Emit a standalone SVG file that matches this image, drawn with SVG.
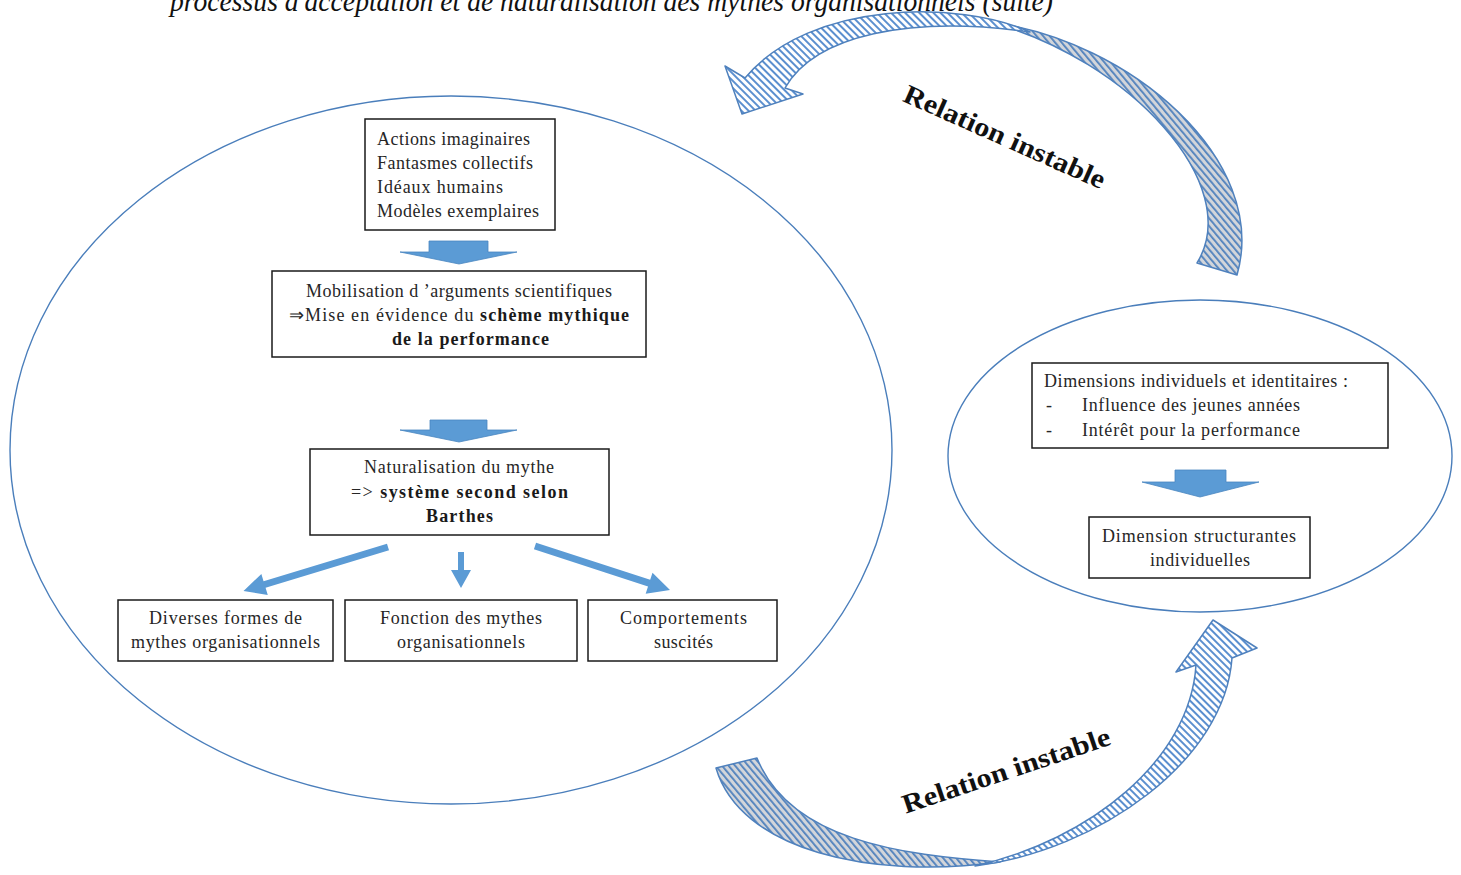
<svg xmlns="http://www.w3.org/2000/svg" width="1461" height="875" viewBox="0 0 1461 875">
<defs>
<pattern id="hatchW" patternUnits="userSpaceOnUse" width="5" height="5" patternTransform="rotate(-45)">
<rect width="5" height="5" fill="#ffffff"/>
<rect width="2" height="5" fill="#5b8fcf"/>
</pattern>
<pattern id="hatchG" patternUnits="userSpaceOnUse" width="5" height="5" patternTransform="rotate(-40)">
<rect width="5" height="5" fill="#d2d5da"/>
<rect width="1.8" height="5" fill="#4f81bd"/>
</pattern>
</defs>
<style>
.ell{fill:none;stroke:#4a7ebb;stroke-width:1.4}
.box{fill:#ffffff;stroke:#1a1a1a;stroke-width:1.5}
.t{font-family:"Liberation Serif",serif;font-size:18px;fill:#262626}
.b{font-weight:bold;fill:#1a1a1a}
.blk{fill:#5b9bd5;stroke:#4a86c0;stroke-width:0.8}
.thin{fill:#5b9bd5}
.front{fill:url(#hatchW);stroke:#4f81bd;stroke-width:1.5;stroke-linejoin:round}
.back{fill:url(#hatchG);stroke:#4f81bd;stroke-width:1.5;stroke-linejoin:round}
.rel{font-family:"Liberation Serif",serif;font-weight:bold;font-size:27px;fill:#111111}
.title{font-family:"Liberation Serif",serif;font-style:italic;font-size:29px;fill:#111111}
</style>

<text class="title" x="170" y="11" textLength="883" lengthAdjust="spacingAndGlyphs">processus d'acceptation et de naturalisation des mythes organisationnels (suite)</text>

<g id="ellipse-left"><ellipse class="ell" cx="451" cy="450" rx="441" ry="354"/></g>
<g id="ellipse-right"><ellipse class="ell" cx="1200" cy="456" rx="252" ry="156"/></g>

<g id="curved-arrow-top">
<path class="back" d="M 990,22 C 1130,40 1270,160 1237,275 L 1197,263 C 1245,185 1130,60 990,22 Z"/>
<path class="front" d="M 745,78 L 725,66 L 742,114 L 803,94 L 785,88 C 815,35 910,15 1030,32 C 960,0 810,0 745,78 Z"/>
<text class="rel" transform="translate(1001,145) rotate(24)" text-anchor="middle" textLength="218" lengthAdjust="spacingAndGlyphs">Relation instable</text>
</g>

<g id="curved-arrow-bottom">
<path class="back" d="M 716,768 C 740,850 870,880 1000,862 C 900,855 790,840 757,758 Z"/>
<path class="front" d="M 975,866 C 1090,840 1190,760 1196,665 L 1176,672 L 1213,620 L 1257,648 L 1232,658 C 1225,760 1100,850 975,866 Z"/>
<text class="rel" transform="translate(1009,779) rotate(-18.6)" text-anchor="middle" textLength="218" lengthAdjust="spacingAndGlyphs">Relation instable</text>
</g>

<g id="connectors">
<polygon class="blk" points="429,241 488,241 488,252 517,252 459,264 400,252 429,252"/>
<polygon class="blk" points="430,420 487,420 487,430 517,430 459,442 400,430 430,430"/>
<polygon class="blk" points="1175,470 1226,470 1226,482 1259,482 1200,497 1142,482 1175,482"/>
<g transform="translate(388,547) rotate(163.1)"><polygon class="thin" points="0,-3.5 129,-3.5 129,-11 151,0 129,11 129,3.5 0,3.5"/></g>
<g transform="translate(461,552) rotate(90)"><polygon class="thin" points="0,-3 18,-3 18,-10 36,0 18,10 18,3 0,3"/></g>
<g transform="translate(535,546) rotate(18.05)"><polygon class="thin" points="0,-3.5 120,-3.5 120,-11 142,0 120,11 120,3.5 0,3.5"/></g>
</g>

<g id="node-actions">
<rect class="box" x="365" y="119" width="190" height="111"/>
<text class="t" x="377" y="145" textLength="153">Actions imaginaires</text>
<text class="t" x="377" y="169" textLength="156">Fantasmes collectifs</text>
<text class="t" x="377" y="193" textLength="126">Idéaux humains</text>
<text class="t" x="377" y="217" textLength="162">Modèles exemplaires</text>
</g>

<g id="node-mobilisation">
<rect class="box" x="272" y="271" width="374" height="86"/>
<text class="t" x="306" y="297" textLength="306">Mobilisation d ’arguments scientifiques</text>
<text class="t" x="289" y="321" textLength="340">⇒Mise en évidence du <tspan class="b">schème mythique</tspan></text>
<text class="t b" x="392" y="345" textLength="157">de la performance</text>
</g>

<g id="node-naturalisation">
<rect class="box" x="310" y="449" width="299" height="86"/>
<text class="t" x="364" y="473" textLength="190">Naturalisation du mythe</text>
<text class="t" x="351" y="498" textLength="217">=&gt; <tspan class="b">système second selon</tspan></text>
<text class="t b" x="426" y="522" textLength="67">Barthes</text>
</g>

<g id="node-formes">
<rect class="box" x="118" y="600" width="215" height="61"/>
<text class="t" x="149" y="624" textLength="153">Diverses formes de</text>
<text class="t" x="131" y="648" textLength="189">mythes organisationnels</text>
</g>

<g id="node-fonction">
<rect class="box" x="345" y="600" width="232" height="61"/>
<text class="t" x="380" y="624" textLength="162">Fonction des mythes</text>
<text class="t" x="397" y="648" textLength="128">organisationnels</text>
</g>

<g id="node-comportements">
<rect class="box" x="588" y="600" width="189" height="61"/>
<text class="t" x="620" y="624" textLength="127">Comportements</text>
<text class="t" x="654" y="648" textLength="59">suscités</text>
</g>

<g id="node-dimensions">
<rect class="box" x="1032" y="363" width="356" height="85"/>
<text class="t" x="1044" y="387" textLength="304">Dimensions individuels et identitaires :</text>
<text class="t" x="1046" y="411">-</text>
<text class="t" x="1082" y="411" textLength="218">Influence des jeunes années</text>
<text class="t" x="1046" y="436">-</text>
<text class="t" x="1082" y="436" textLength="218">Intérêt pour la performance</text>
</g>

<g id="node-structurantes">
<rect class="box" x="1089" y="517" width="221" height="61"/>
<text class="t" x="1102" y="542" textLength="194">Dimension structurantes</text>
<text class="t" x="1150" y="566" textLength="100">individuelles</text>
</g>
</svg>
